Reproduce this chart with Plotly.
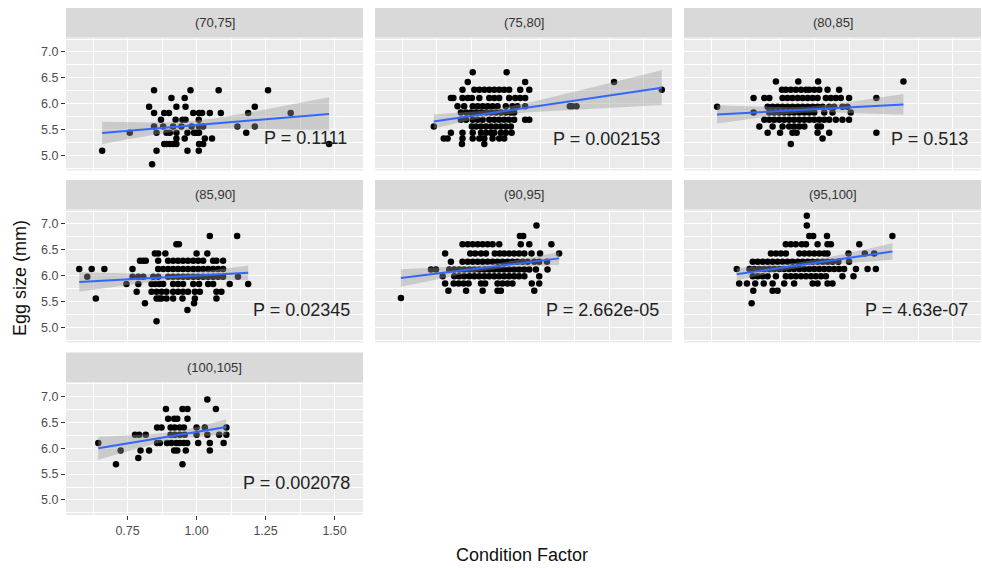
import numpy as np
import plotly.graph_objects as go

# ---------------------------------------------------------------------------
# Egg size (mm) vs condition factor, faceted by length class.
# Each panel: egg-size rows and the condition factors observed at that size.
# ---------------------------------------------------------------------------
facet_labels = ["(70,75]", "(75,80]", "(80,85]", "(85,90]", "(90,95]", "(95,100]", "(100,105]"]
p_values = ["P = 0.1111", "P = 0.002153", "P = 0.513", "P = 0.02345",
            "P = 2.662e-05", "P = 4.63e-07", "P = 0.002078"]

egg_70_75 = [6.26, 6.11, 5.94, 5.82, 5.69, 5.56, 5.44, 5.33, 5.22, 5.09, 4.83]
cf_70_75 = [
    [0.846, 0.978, 1.080, 1.259],
    [0.909, 0.957],
    [0.828, 0.927, 0.960, 1.211],
    [0.846, 0.883, 0.900, 0.988, 1.009, 1.020, 1.048, 1.088, 1.187, 1.341],
    [0.871, 0.924, 0.949, 0.960, 1.008],
    [0.846, 0.879, 0.915, 0.945, 0.982, 1.009, 1.024, 1.148, 1.211],
    [0.758, 0.855, 0.891, 0.903, 0.927, 0.967, 0.991, 1.000, 1.009, 1.180],
    [0.927, 0.957, 1.030, 1.056],
    [0.883, 0.891, 0.903, 0.915, 0.927, 1.009, 1.024, 1.480],
    [0.658, 0.855, 0.967, 1.008],
    [0.839],
]

egg_75_80 = [6.61, 6.42, 6.27, 6.11, 5.95, 5.83, 5.69, 5.56, 5.44, 5.33, 5.22]
cf_75_80 = [
    [0.881, 1.004],
    [0.863, 1.071, 1.393],
    [0.844, 0.887, 0.905, 0.923, 0.941, 0.959, 0.977, 0.995, 1.013, 1.053, 1.086, 1.566],
    [0.802, 0.811, 0.844, 0.863, 0.878, 0.905, 0.941, 0.959, 0.977, 1.013, 1.035, 1.053, 1.071],
    [0.826, 0.850, 0.881, 0.899, 0.917, 0.935, 0.953, 0.971, 1.001, 1.025, 1.043, 1.071, 1.233, 1.242, 1.257],
    [0.838, 0.857, 0.875, 0.893, 0.911, 0.929, 0.947, 0.965, 0.983, 1.001, 1.019, 1.031],
    [0.838, 0.857, 0.881, 0.899, 0.917, 0.941, 0.959, 0.977, 0.995, 1.013, 1.031, 1.071, 1.086],
    [0.740, 0.878, 0.893, 0.911, 0.929, 0.947, 0.965, 0.983, 1.001, 1.019],
    [0.802, 0.844, 0.881, 0.911, 0.929, 0.947, 0.959, 0.983, 1.001, 1.022],
    [0.776, 0.790, 0.844, 0.881, 0.905, 0.923, 0.953, 0.977, 0.995],
    [0.842, 0.923],
]

egg_80_85 = [6.43, 6.27, 6.11, 5.94, 5.83, 5.69, 5.56, 5.44, 5.33, 5.22]
cf_80_85 = [
    [0.860, 0.941, 1.013, 1.322],
    [0.882, 0.896, 0.914, 0.932, 0.951, 0.969, 0.981, 0.999, 1.017, 1.047, 1.089],
    [0.779, 0.818, 0.836, 0.884, 0.902, 0.920, 0.939, 0.957, 0.975, 0.993, 1.011, 1.041, 1.059, 1.077, 1.095, 1.125, 1.224],
    [0.647, 0.830, 0.848, 0.866, 0.884, 0.902, 0.920, 0.939, 0.957, 0.975, 0.993, 1.011, 1.029, 1.053, 1.071, 1.101, 1.119],
    [0.779, 0.836, 0.854, 0.872, 0.890, 0.908, 0.926, 0.945, 0.963, 0.981, 0.999, 1.035, 1.065, 1.131],
    [0.818, 0.836, 0.854, 0.872, 0.890, 0.908, 0.926, 0.945, 0.963, 0.981, 0.999, 1.017, 1.035, 1.053, 1.077, 1.101, 1.125],
    [0.800, 0.848, 0.884, 0.908, 0.926, 0.945, 0.963, 1.011, 1.023],
    [0.830, 0.875, 0.920, 0.935, 1.011, 1.053, 1.224],
    [1.029],
    [0.914],
]

egg_85_90 = [6.77, 6.61, 6.43, 6.29, 6.13, 5.98, 5.84, 5.69, 5.56, 5.47, 5.34, 5.12]
cf_85_90 = [
    [1.048, 1.147],
    [0.927, 0.936],
    [0.849, 0.861, 0.887, 1.000, 1.039],
    [0.795, 0.807, 0.816, 0.861, 0.897, 0.915, 0.933, 0.951, 0.969, 0.988, 1.006, 1.024, 1.060, 1.072, 1.096],
    [0.575, 0.620, 0.666, 0.768, 0.861, 0.879, 0.897, 0.915, 0.933, 0.951, 0.969, 0.988, 1.006, 1.024, 1.042, 1.060, 1.078, 1.096],
    [0.604, 0.768, 0.789, 0.807, 0.843, 0.861, 0.897, 0.915, 0.933, 0.951, 0.969, 0.988, 1.006, 1.024, 1.042, 1.060, 1.078, 1.096, 1.150],
    [0.746, 0.789, 0.837, 0.849, 0.865, 0.879, 0.915, 0.933, 0.951, 0.988, 1.009, 1.042, 1.060, 1.120, 1.187],
    [0.783, 0.837, 0.855, 0.873, 0.891, 0.915, 0.933, 0.951, 0.969, 0.994, 1.012, 1.072, 1.090],
    [0.635, 0.855, 0.865, 0.873, 0.891, 0.915, 0.949, 0.994, 1.072],
    [0.813, 0.991],
    [0.967],
    [0.855],
]

egg_90_95 = [6.97, 6.77, 6.61, 6.43, 6.27, 6.12, 5.99, 5.85, 5.71, 5.57]
cf_90_95 = [
    [1.112],
    [1.052, 1.064],
    [0.844, 0.863, 0.881, 0.899, 0.917, 0.935, 0.953, 0.977, 1.055, 1.086, 1.166],
    [0.781, 0.872, 0.890, 0.911, 0.929, 0.961, 0.979, 0.995, 1.013, 1.031, 1.049, 1.068, 1.094, 1.125, 1.194],
    [0.802, 0.844, 0.863, 0.881, 0.899, 0.917, 0.935, 0.953, 0.971, 0.989, 1.007, 1.025, 1.043, 1.062, 1.080, 1.104, 1.122, 1.150],
    [0.730, 0.748, 0.796, 0.814, 0.832, 0.850, 0.869, 0.887, 0.905, 0.923, 0.941, 0.959, 0.977, 0.995, 1.013, 1.031, 1.049, 1.068, 1.086, 1.110, 1.152],
    [0.772, 0.814, 0.832, 0.850, 0.869, 0.887, 0.905, 0.923, 0.941, 0.959, 0.977, 0.995, 1.013, 1.031, 1.049, 1.068, 1.122],
    [0.781, 0.812, 0.830, 0.848, 0.866, 0.911, 0.926, 0.971, 0.989, 1.007, 1.025, 1.095, 1.122],
    [0.793, 0.857, 0.917, 0.971, 0.983, 1.104],
    [0.621],
]

egg_95_100 = [7.16, 6.97, 6.77, 6.61, 6.43, 6.27, 6.13, 5.99, 5.85, 5.71, 5.47]
cf_95_100 = [
    [0.972],
    [0.972],
    [0.981, 0.995, 1.045, 1.282],
    [0.896, 0.914, 0.932, 0.954, 0.969, 1.011, 1.047, 1.059, 1.162],
    [0.842, 0.860, 0.878, 0.896, 0.945, 0.963, 0.981, 0.999, 1.017, 1.035, 1.047, 1.123, 1.182, 1.216],
    [0.776, 0.794, 0.812, 0.830, 0.848, 0.866, 0.884, 0.902, 0.920, 0.939, 0.957, 0.975, 0.993, 1.011, 1.029, 1.047, 1.065, 1.086, 1.125],
    [0.718, 0.764, 0.782, 0.800, 0.818, 0.836, 0.854, 0.872, 0.890, 0.908, 0.926, 0.945, 0.963, 0.981, 0.999, 1.017, 1.035, 1.053, 1.071, 1.089, 1.107, 1.150, 1.192, 1.222],
    [0.776, 0.794, 0.812, 0.830, 0.860, 0.896, 0.914, 0.932, 0.951, 0.969, 0.987, 1.005, 1.023, 1.041, 1.101, 1.141],
    [0.727, 0.755, 0.785, 0.816, 0.848, 0.890, 0.926, 0.993, 1.011, 1.047, 1.065],
    [0.778, 0.848, 0.866],
    [0.772],
]

egg_100_105 = [6.94, 6.76, 6.57, 6.40, 6.26, 6.10, 5.955, 5.81, 5.69]
cf_100_105 = [
    [1.039],
    [0.889, 0.949, 0.967, 1.070],
    [0.897, 0.919, 0.930, 0.967],
    [0.857, 0.873, 0.906, 0.921, 0.939, 0.954, 1.000, 1.030, 1.108],
    [0.777, 0.792, 0.816, 0.906, 0.921, 0.939, 0.957, 1.000, 1.039, 1.082, 1.108],
    [0.644, 0.857, 0.867, 0.893, 0.909, 0.927, 0.939, 0.954, 0.966, 1.006, 1.048, 1.098],
    [0.725, 0.797, 0.828, 0.919, 0.930, 0.961, 1.048],
    [0.789],
    [0.708, 0.949],
]

x_ticks = [0.75, 1.00, 1.25, 1.50]
y_ticks = [5.0, 5.5, 6.0, 6.5, 7.0]

egg_rows = [egg_70_75, egg_75_80, egg_80_85, egg_85_90, egg_90_95, egg_95_100, egg_100_105]
cf_rows = [cf_70_75, cf_75_80, cf_80_85, cf_85_90, cf_90_95, cf_95_100, cf_100_105]

# ---------------------------------------------------------------------------
# Layout geometry (pixels in a 982 x 568 canvas)
# ---------------------------------------------------------------------------
W, H = 982, 568
col_px = [(66, 363), (375, 672), (684, 981)]
row_px = [(37.5, 170.5), (209.5, 342.5), (382.0, 515.0)]   # panel top, bottom
strip_h = 29.5
x_range = [0.527, 1.603]
y_range = [4.71, 7.28]
# centre of each P-value label, in data units of its panel
p_label_xy = [(1.393, 5.335), (1.366, 5.32), (1.418, 5.32), (1.381, 5.335),
              (1.353, 5.33), (1.368, 5.33), (1.362, 5.32)]

FONT = "Arial, Liberation Sans, sans-serif"


def lm_band(x, y, n_out=80, level=0.95):
    """Least-squares line with a confidence band, as geom_smooth(method='lm')."""
    x = np.asarray(x, float)
    y = np.asarray(y, float)
    n = len(x)
    xbar = x.mean()
    sxx = ((x - xbar) ** 2).sum()
    slope = ((x - xbar) * (y - y.mean())).sum() / sxx
    icpt = y.mean() - slope * xbar
    resid = y - (icpt + slope * x)
    s = np.sqrt((resid ** 2).sum() / (n - 2))
    df = n - 2
    z = 1.959963985
    t = z + (z ** 3 + z) / (4 * df) + (5 * z ** 5 + 16 * z ** 3 + 3 * z) / (96 * df ** 2)
    xs = np.linspace(x.min(), x.max(), n_out)
    fit = icpt + slope * xs
    se = s * np.sqrt(1.0 / n + (xs - xbar) ** 2 / sxx)
    return xs, fit, fit - t * se, fit + t * se


fig = go.Figure()
layout = dict(
    width=W, height=H,
    margin=dict(l=0, r=0, t=0, b=0),
    paper_bgcolor="white",
    plot_bgcolor="#EBEBEB",
    showlegend=False,
    font=dict(family=FONT, color="#4D4D4D"),
)
shapes = []
annotations = []

for i in range(7):
    r, c = divmod(i, 3)
    sfx = "" if i == 0 else str(i + 1)
    xa, ya = "x" + sfx, "y" + sfx

    xs_pts, ys_pts = [], []
    for egg, cfs in zip(egg_rows[i], cf_rows[i]):
        xs_pts.extend(cfs)
        ys_pts.extend([egg] * len(cfs))

    fig.add_trace(go.Scatter(
        x=xs_pts, y=ys_pts, mode="markers", xaxis=xa, yaxis=ya,
        marker=dict(color="black", size=6.5, line=dict(width=0)),
        hoverinfo="skip",
    ))

    xs, fit, lo, hi = lm_band(xs_pts, ys_pts)
    fig.add_trace(go.Scatter(
        x=np.concatenate([xs, xs[::-1]]), y=np.concatenate([hi, lo[::-1]]),
        mode="lines", fill="toself", fillcolor="rgba(153,153,153,0.4)",
        line=dict(width=0), xaxis=xa, yaxis=ya, hoverinfo="skip",
    ))
    fig.add_trace(go.Scatter(
        x=xs, y=fit, mode="lines", line=dict(color="#3366FF", width=2),
        xaxis=xa, yaxis=ya, hoverinfo="skip",
    ))

    x0, x1 = col_px[c]
    top, bot = row_px[r]
    show_x = (i == 6)
    show_y = (c == 0)

    layout["xaxis" + sfx] = dict(
        domain=[x0 / W, x1 / W], anchor=ya, range=x_range,
        tickmode="array", tickvals=x_ticks, ticktext=[f"{v:.2f}" for v in x_ticks],
        showticklabels=show_x, ticks="outside" if show_x else "",
        ticklen=4, tickwidth=1, tickcolor="#333333",
        tickfont=dict(size=12.5, color="#4D4D4D"),
        showgrid=True, gridcolor="white", gridwidth=1.4,
        minor=dict(tickvals=[0.625, 0.875, 1.125, 1.375], showgrid=True,
                   gridcolor="white", gridwidth=0.7, ticks=""),
        zeroline=False, showline=False, fixedrange=True,
    )
    layout["yaxis" + sfx] = dict(
        domain=[1 - bot / H, 1 - top / H], anchor=xa, range=y_range,
        tickmode="array", tickvals=y_ticks, ticktext=[f"{v:.1f}" for v in y_ticks],
        showticklabels=show_y, ticks="outside" if show_y else "",
        ticklen=4, tickwidth=1, tickcolor="#333333",
        tickfont=dict(size=12.5, color="#4D4D4D"),
        showgrid=True, gridcolor="white", gridwidth=1.4,
        minor=dict(tickvals=[4.75, 5.25, 5.75, 6.25, 6.75, 7.25], showgrid=True,
                   gridcolor="white", gridwidth=0.7, ticks=""),
        zeroline=False, showline=False, fixedrange=True,
    )

    # facet strip
    shapes.append(dict(
        type="rect", xref="paper", yref="paper",
        x0=x0 / W, x1=x1 / W, y0=1 - top / H, y1=1 - (top - strip_h) / H,
        fillcolor="#D9D9D9", line=dict(width=0), layer="below",
    ))
    annotations.append(dict(
        xref="paper", yref="paper", x=(x0 + x1) / 2 / W, y=1 - (top - strip_h / 2) / H,
        text=facet_labels[i], showarrow=False, xanchor="center", yanchor="middle",
        font=dict(family=FONT, size=13, color="#333333"),
    ))

    # P-value label
    px, py = p_label_xy[i]
    annotations.append(dict(
        xref=xa, yref=ya, x=px, y=py, text=p_values[i], showarrow=False,
        xanchor="center", yanchor="middle",
        font=dict(family=FONT, size=18, color="#222222"),
    ))

# axis titles
annotations.append(dict(
    xref="paper", yref="paper", x=522 / W, y=1 - 555 / H, text="Condition Factor",
    showarrow=False, xanchor="center", yanchor="middle",
    font=dict(family=FONT, size=18, color="#111111"),
))
annotations.append(dict(
    xref="paper", yref="paper", x=20 / W, y=1 - 278 / H, text="Egg size (mm)",
    showarrow=False, xanchor="center", yanchor="middle", textangle=-90,
    font=dict(family=FONT, size=18, color="#111111"),
))

layout["shapes"] = shapes
layout["annotations"] = annotations
fig.update_layout(**layout)

fig.write_html("out.html")
